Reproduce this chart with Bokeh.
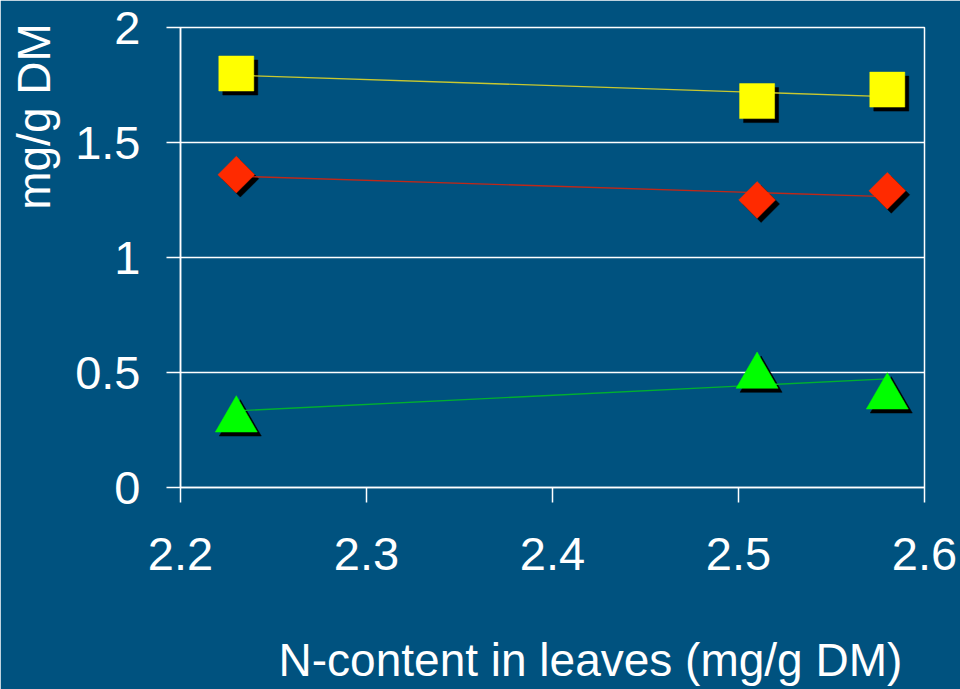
import numpy as np
from bokeh.plotting import figure
from bokeh.models import ColumnDataSource, FixedTicker, Range1d, LinearAxis
from bokeh.transform import dodge
from bokeh.embed import file_html
from bokeh.resources import INLINE

# N-content in leaves (mg/g DM) and the three measured series (mg/g DM)
n_content = [2.23, 2.51, 2.58]
yellow_vals = [1.80, 1.68, 1.73]
red_vals = [1.36, 1.25, 1.29]
green_vals = [0.32, 0.51, 0.42]

x_ticks = [2.2, 2.3, 2.4, 2.5, 2.6]
x_tick_labels = ["2.2", "2.3", "2.4", "2.5", "2.6"]
y_ticks = [0, 0.5, 1, 1.5, 2]
y_tick_labels = ["0", "0.5", "1", "1.5", "2"]
x_title = "N-content in leaves (mg/g DM)"
y_title = "mg/g DM"

BG = "#00527F"
FONT = "Liberation Sans"
W, H = 960, 689
LEFT, RIGHT, TOP, BOTTOM = 180, 36, 27, 202
X0, X1 = 2.2, 2.6
Y0, Y1 = 0.0, 2.0
FRAME_W = W - LEFT - RIGHT
FRAME_H = H - TOP - BOTTOM

# size of one screen pixel in data units, used for the drop shadows
px_x = (X1 - X0) / FRAME_W
px_y = (Y1 - Y0) / FRAME_H
SHADOW = 4

p = figure(width=W, height=H, output_backend="svg", toolbar_location=None,
           title=None, x_range=Range1d(X0, X1), y_range=Range1d(Y0, Y1))
p.min_border_left = LEFT
p.min_border_right = RIGHT
p.min_border_top = TOP
p.min_border_bottom = BOTTOM
p.background_fill_color = BG
p.border_fill_color = BG
p.outline_line_color = "white"
p.outline_line_width = 1.5

# axes
for ax in (p.xaxis, p.yaxis):
    ax.axis_line_color = "white"
    ax.axis_line_width = 1.5
    ax.major_tick_line_color = "white"
    ax.major_tick_line_width = 1.5
    ax.major_tick_in = 0
    ax.minor_tick_line_color = None
    ax.major_label_text_color = "white"
    ax.major_label_text_font = FONT
    ax.major_label_text_font_size = "47px"

p.xaxis.ticker = FixedTicker(ticks=x_ticks)
p.xaxis.major_label_overrides = dict(zip(x_ticks, x_tick_labels))
p.xaxis.major_tick_out = 15
p.xaxis.major_label_standoff = 35

p.yaxis.ticker = FixedTicker(ticks=y_ticks)
p.yaxis.major_label_overrides = dict(zip(y_ticks, y_tick_labels))
p.yaxis.major_tick_out = 14
p.yaxis.major_label_standoff = 26


def title_axis(pos, text, standoff, orientation):
    """A tick-less axis whose single label serves as an off-centre axis title."""
    ax = LinearAxis(ticker=FixedTicker(ticks=[pos]),
                    major_label_overrides={pos: text},
                    major_label_orientation=orientation,
                    major_label_standoff=standoff,
                    major_label_text_color="white",
                    major_label_text_font=FONT,
                    major_label_text_font_size="46px",
                    axis_line_color=None, major_tick_line_color=None,
                    minor_tick_line_color=None, major_tick_out=0, major_tick_in=0)
    return ax


# x title centred 410 px right of the frame's left edge,
# y title centred 371 px above the frame's bottom edge
x_title_pos = round(X0 + 410 * px_x, 4)
y_title_pos = round(Y0 + 371 * px_y, 4)
p.add_layout(title_axis(x_title_pos, x_title, 61, "horizontal"), "below")
p.add_layout(title_axis(y_title_pos, y_title, 12, "vertical"), "left")

p.xgrid.visible = False
p.ygrid.ticker = FixedTicker(ticks=y_ticks)
p.ygrid.grid_line_color = "white"
p.ygrid.grid_line_width = 1.5

series = [
    # values, fill colour, trend line colour, marker, size, angle, y nudge (px)
    (yellow_vals, "#FFFF00", "#C8C830", "square", 35, 0.0, 0.0),
    (red_vals, "#FF2A00", "#C02818", "square", 26, np.pi / 4, 0.0),
    (green_vals, "#00FF00", "#00B030", "triangle", 42, 0.0, 6.0),
]

for vals, fill, trend_col, marker, size, angle, nudge in series:
    src = ColumnDataSource(dict(x=n_content, y=vals))

    # drop shadow
    p.scatter(x=dodge("x", SHADOW * px_x), y=dodge("y", -(SHADOW + nudge) * px_y),
              source=src, marker=marker, size=size, angle=angle,
              fill_color="black", line_color="black", line_width=0.5)

    # linear trend line through the series
    slope, icpt = np.polyfit(n_content, vals, 1)
    xs = [min(n_content), max(n_content)]
    p.line(xs, [slope * x + icpt for x in xs], line_color=trend_col, line_width=1.3)

    # markers
    p.scatter(x="x", y=dodge("y", -nudge * px_y), source=src, marker=marker,
              size=size, angle=angle, fill_color=fill, line_color=fill,
              line_width=0.5)

open("out.html", "w").write(file_html(p, INLINE))
